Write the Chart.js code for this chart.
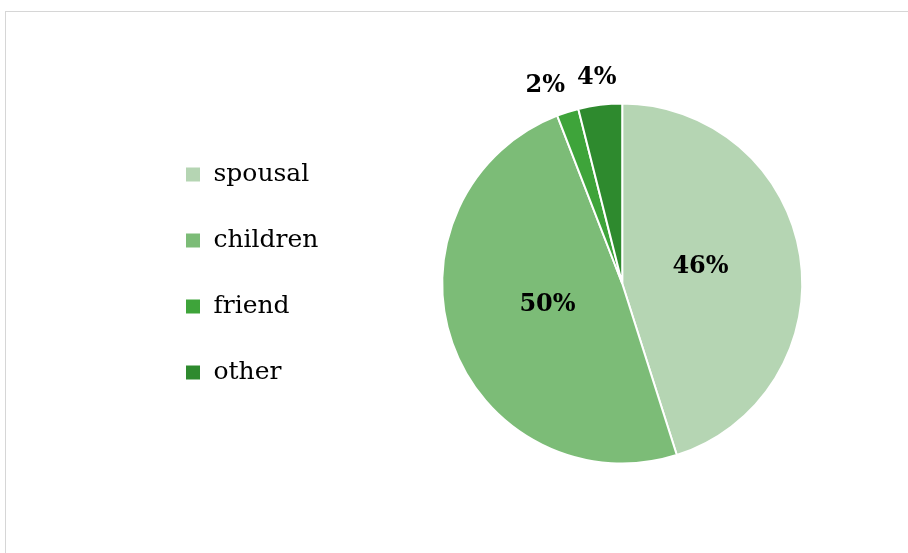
<!DOCTYPE html>
<html>
<head>
<meta charset="utf-8">
<script src="https://cdn.jsdelivr.net/npm/chart.js@4.4.1/dist/chart.umd.min.js"></script>
<style>
  html, body { margin: 0; padding: 0; background: #fff; overflow: hidden; }
  #frame {
    position: absolute; left: 5px; top: 11px;
    width: 930px; height: 560px;
    border: 1px solid #d6d6d6; box-sizing: border-box;
  }
  #wrap { position: absolute; left: 0; top: 0; width: 930px; height: 553px; }
</style>
</head>
<body>
<div id="frame"></div>
<div id="wrap"><canvas id="careChart"></canvas></div>
<script>
const categories = ['spousal', 'children', 'friend', 'other'];
const shares = [46, 50, 2, 4];
const sliceColors = ['#b5d5b3', '#7cbc77', '#3ea43a', '#2e8a2e'];

// percentage labels: inside the big slices, just outside the thin ones
const sliceLabels = {
    id: 'sliceLabels',
    afterDatasetsDraw(chart) {
        const ctx = chart.ctx;
        const arcs = chart.getDatasetMeta(0).data;
        const values = chart.data.datasets[0].data;
        ctx.save();
        ctx.font = 'bold 24px "DejaVu Serif"';
        ctx.fillStyle = '#000';
        ctx.textAlign = 'center';
        ctx.textBaseline = 'middle';
        let leftLimit = Infinity;
        for (let i = arcs.length - 1; i >= 0; i--) {
            const a = arcs[i];
            const mid = (a.startAngle + a.endAngle) / 2;
            const text = values[i] + '%';
            const thin = (a.endAngle - a.startAngle) < 0.4;
            const dist = a.outerRadius * (thin ? 1.15 : 0.44);
            let x = a.x + Math.cos(mid) * dist;
            let y = a.y + Math.sin(mid) * dist - (thin ? 0 : 5);
            if (thin) {
                // keep neighbouring outside labels from overlapping
                const w = ctx.measureText(text).width;
                if (x + w / 2 + 12 > leftLimit) x = leftLimit - 12 - w / 2;
                leftLimit = x - w / 2;
            }
            ctx.fillText(text, x, y);
        }
        ctx.restore();
    }
};

const ctx = document.getElementById('careChart').getContext('2d');
new Chart(ctx, {
    type: 'pie',
    data: {
        labels: categories,
        datasets: [{
            data: shares,
            backgroundColor: sliceColors,
            borderColor: '#ffffff',
            borderWidth: 2,
            radius: 180,
            clip: false
        }]
    },
    options: {
        responsive: true,
        maintainAspectRatio: false,
        animation: false,
        layout: { padding: { left: 144, right: 14, top: 121, bottom: 107 } },
        plugins: {
            legend: {
                position: 'left',
                align: 'start',
                labels: {
                    boxWidth: 16,
                    boxHeight: 16,
                    padding: 41,
                    color: '#000',
                    font: { family: '"DejaVu Serif"', size: 25 }
                }
            },
            tooltip: { enabled: false }
        }
    },
    plugins: [sliceLabels]
});
</script>
</body>
</html>
